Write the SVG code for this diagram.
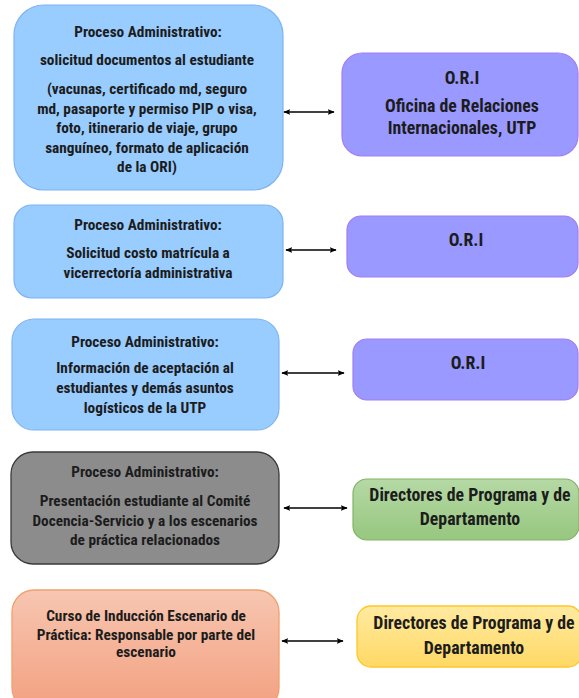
<svg xmlns="http://www.w3.org/2000/svg" width="579" height="698" viewBox="0 0 579 698">
<defs>
<linearGradient id="gGreen" x1="0" y1="0" x2="0" y2="1"><stop offset="0" stop-color="#b5d9a5"/><stop offset="1" stop-color="#97c77f"/></linearGradient>
<linearGradient id="gYellow" x1="0" y1="0" x2="0" y2="1"><stop offset="0" stop-color="#ffeaa0"/><stop offset="1" stop-color="#ffd965"/></linearGradient>
<linearGradient id="gOrange" x1="0" y1="0" x2="0" y2="1"><stop offset="0" stop-color="#f7c6b1"/><stop offset="1" stop-color="#f3a080"/></linearGradient>
<marker id="ah" viewBox="0 0 10 10" refX="9" refY="5" markerWidth="7" markerHeight="7" orient="auto-start-reverse" markerUnits="userSpaceOnUse"><path d="M0,1 L10,5 L0,9 L2,5 Z" fill="#000"/></marker>
<style>
text{font-family:"Liberation Sans Narrow","Roboto Condensed","Liberation Sans",sans-serif;text-anchor:middle;fill:#1c1c1c}
.s{font-size:15.3px;font-weight:bold}
.b{font-size:17.8px;font-weight:bold}
.blue{fill:#99ccff;stroke:#7fb4f0;stroke-width:1.2}
.purple{fill:#9999ff;stroke:#a47cf2;stroke-width:1.2}
.conn line{stroke:#000;stroke-width:1.3;marker-start:url(#ah);marker-end:url(#ah)}
</style>
</defs>
<g id="n1"><rect class="blue" x="14" y="5" width="269" height="185" rx="30"/>
<text class="s" x="148" y="37">Proceso Administrativo:</text>
<text class="s" x="147" y="65">solicitud documentos al estudiante</text>
<text class="s" x="147" y="94">(vacunas, certificado md, seguro</text>
<text class="s" x="147" y="113.5">md, pasaporte y permiso PIP o visa,</text>
<text class="s" x="147" y="133">foto, itinerario de viaje, grupo</text>
<text class="s" x="147" y="152.5">sanguíneo, formato de aplicación</text>
<text class="s" x="147" y="172">de la ORI)</text>
</g>
<g id="n2"><rect class="purple" x="342" y="53" width="236" height="103" rx="20"/>
<text class="b" x="462" y="84">O.R.I</text>
<text class="b" x="462" y="112">Oficina de Relaciones</text>
<text class="b" x="462" y="134">Internacionales, UTP</text>
</g>
<g id="n3"><rect class="blue" x="14" y="205" width="269" height="93" rx="18"/>
<text class="s" x="148" y="230">Proceso Administrativo:</text>
<text class="s" x="148" y="258">Solicitud costo matrícula a</text>
<text class="s" x="148" y="278">vicerrectoría administrativa</text>
</g>
<g id="n4"><rect class="purple" x="347" y="216" width="231" height="61" rx="14"/>
<text class="b" x="466" y="246">O.R.I</text>
</g>
<g id="n5"><rect class="blue" x="12" y="319" width="267" height="111" rx="22"/>
<text class="s" x="145" y="347">Proceso Administrativo:</text>
<text class="s" x="145" y="373">Información de aceptación al</text>
<text class="s" x="145" y="393">estudiantes y demás asuntos</text>
<text class="s" x="145" y="413">logísticos de la UTP</text>
</g>
<g id="n6"><rect class="purple" x="353" y="339" width="225" height="61" rx="14"/>
<text class="b" x="468" y="369">O.R.I</text>
</g>
<g id="n7"><rect x="11" y="452" width="268" height="112" rx="22" fill="#8c8c8c" stroke="#3a3a3a" stroke-width="1.3"/>
<text class="s" x="145" y="477">Proceso Administrativo:</text>
<text class="s" x="145" y="506">Presentación estudiante al Comité</text>
<text class="s" x="145" y="526">Docencia-Servicio y a los escenarios</text>
<text class="s" x="145" y="545">de práctica relacionados</text>
</g>
<g id="n8"><rect x="353" y="479" width="226" height="61" rx="14" fill="url(#gGreen)" stroke="#82b366" stroke-width="1.2"/>
<text class="b" x="470" y="501">Directores de Programa y de</text>
<text class="b" x="470" y="525">Departamento</text>
</g>
<g id="n9"><rect x="12" y="590" width="267" height="120" rx="22" fill="url(#gOrange)" stroke="#f0a06c" stroke-width="1.3"/>
<text class="s" x="146" y="621">Curso de Inducción Escenario de</text>
<text class="s" x="146" y="640">Práctica: Responsable por parte del</text>
<text class="s" x="146" y="657">escenario</text>
</g>
<g id="n10"><rect x="357" y="606" width="225" height="61" rx="14" fill="url(#gYellow)" stroke="#ffc629" stroke-width="1.3"/>
<text class="b" x="474" y="629">Directores de Programa y de</text>
<text class="b" x="474" y="654">Departamento</text>
</g>
<g class="conn" id="connectors">
<line x1="284" y1="112" x2="334" y2="112"/>
<line x1="286" y1="250" x2="336" y2="250"/>
<line x1="282" y1="373" x2="344" y2="373"/>
<line x1="284" y1="508" x2="347" y2="508"/>
<line x1="282" y1="641" x2="343" y2="641"/>
</g>
</svg>
